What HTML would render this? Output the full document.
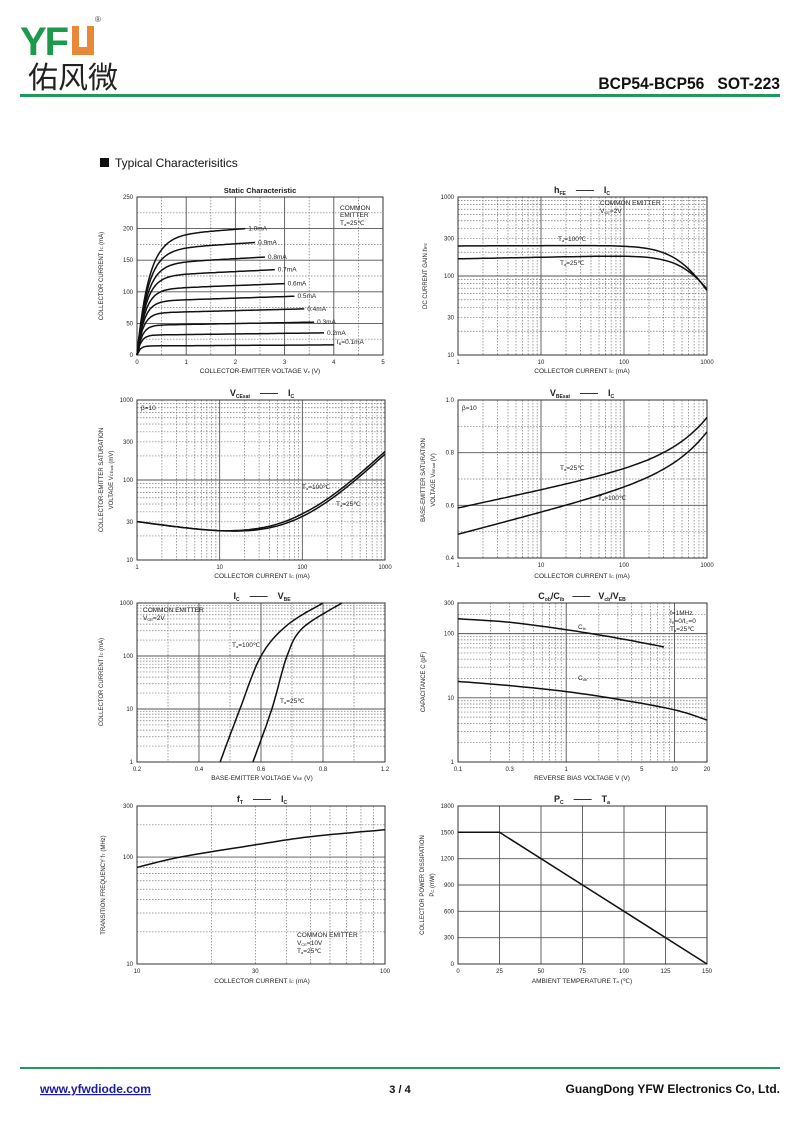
<!DOCTYPE html>
<html><head><meta charset="utf-8"><style>
body{margin:0;background:#fff;width:800px;height:1130px;overflow:hidden;font-family:"Liberation Sans",Arial,sans-serif}
svg{position:absolute;left:0;top:0}
</style></head><body>
<svg id="s" width="800" height="1130" xmlns="http://www.w3.org/2000/svg" font-family="Liberation Sans, sans-serif">
<text x="20" y="55" font-size="40" font-weight="bold" fill="#1a9a4a" letter-spacing="-2">YF</text>
<rect x="72" y="26" width="22" height="29" fill="#e8893a"/>
<rect x="79" y="26" width="8" height="21" fill="#fff"/>
<text x="95" y="22" font-size="8" fill="#444">®</text>
<text x="28" y="88" font-size="30" font-family="Noto Sans CJK SC, sans-serif" fill="#222">佑风微</text>
<rect x="20" y="94" width="760" height="3" fill="#1e9a5a"/>
<text x="780" y="89" font-size="17" font-weight="bold" text-anchor="end" fill="#111" xml:space="preserve" transform="translate(780 0) scale(0.92 1) translate(-780 0)">BCP54-BCP56   SOT-223</text>
<rect x="100" y="158" width="9" height="9" fill="#111"/>
<text x="115" y="167" font-size="12" fill="#111">Typical  Characterisitics</text>
<rect x="20" y="1067" width="760" height="2" fill="#1e9a5a"/>
<text x="40" y="1093" font-size="12" font-weight="bold" fill="#1a1aaa" text-decoration="underline">www.yfwdiode.com</text>
<text x="400" y="1093" font-size="11" font-weight="bold" text-anchor="middle" fill="#111">3 / 4</text>
<text x="780" y="1093" font-size="12" font-weight="bold" text-anchor="end" fill="#111">GuangDong YFW Electronics Co, Ltd.</text>
<g id="g"></g>
</svg>
<script>
var g=document.getElementById('g'),o='';
function T(x,y,t,s,a,w,r){o+='<text x="'+x+'" y="'+y+'" font-size="'+(s||6)+'"'+(a?' text-anchor="'+a+'"':'')+(w?' font-weight="bold"':'')+(r?' transform="rotate(-90 '+x+' '+y+')"':'')+' fill="#222">'+t+'</text>';}
function L(x1,y1,x2,y2,d,w){o+='<line x1="'+x1+'" y1="'+y1+'" x2="'+x2+'" y2="'+y2+'" stroke="'+(d?'#777':'#555')+'" stroke-width="'+(w||(d?0.7:0.9))+'"'+(d?' stroke-dasharray="1.5,1.5"':'')+'/>';}
function chart(c){
 var lg=Math.log10;
 var fx=function(v){var a=c.xl?lg(v):v,a0=c.xl?lg(c.x0):c.x0,a1=c.xl?lg(c.x1):c.x1;return c.L+(a-a0)/(a1-a0)*(c.R-c.L);};
 var fy=function(v){var a=c.yl?lg(v):v,a0=c.yl?lg(c.y0):c.y0,a1=c.yl?lg(c.y1):c.y1;return c.B-(a-a0)/(a1-a0)*(c.B-c.T);};
 c.fx=fx;c.fy=fy;
 (c.xd||[]).forEach(function(v){L(fx(v),c.T,fx(v),c.B,1);});
 (c.yd||[]).forEach(function(v){L(c.L,fy(v),c.R,fy(v),1);});
 (c.xs||[]).forEach(function(v){L(fx(v),c.T,fx(v),c.B);});
 (c.ys||[]).forEach(function(v){L(c.L,fy(v),c.R,fy(v));});
 o+='<rect x="'+c.L+'" y="'+c.T+'" width="'+(c.R-c.L)+'" height="'+(c.B-c.T)+'" fill="none" stroke="#333" stroke-width="1"/>';
 c.xt.forEach(function(v){T(fx(v[0]),c.B+9,v[1],6,'middle');});
 c.yt.forEach(function(v){T(c.L-4,fy(v[0])+2,v[1],6,'end');});
 (c.curves||[]).forEach(function(pts){var p=pts.filter(function(q){return isFinite(fy(q[1]))&&isFinite(fx(q[0]));}).map(function(q){return fx(q[0]).toFixed(1)+','+fy(q[1]).toFixed(1);}).join(' ');o+='<polyline points="'+p+'" fill="none" stroke="#111" stroke-width="1.5"/>';});
 return c;
}
function logdiv(a,b){var r=[];for(var d=a;d<b;d*=10)for(var k=2;k<10;k++)if(d*k<b)r.push(d*k);return r;}
function fn(f,a,b,n,lg){var r=[];for(var i=0;i<=n;i++){var t=i/n;var x=lg?Math.pow(10,Math.log10(a)+t*(Math.log10(b)-Math.log10(a))):a+t*(b-a);r.push([x,f(x)]);}return r;}
function interp(pts,n,lx,ly){
 var P=pts.map(function(p){return [lx?Math.log10(p[0]):p[0],ly?Math.log10(p[1]):p[1]];});
 var r=[];for(var i=0;i<P.length-1;i++){for(var j=0;j<n;j++){var t=j/n;var p0=P[Math.max(0,i-1)],p1=P[i],p2=P[i+1],p3=P[Math.min(P.length-1,i+2)];var cr=function(a,b,c,d){return 0.5*(2*b+(-a+c)*t+(2*a-5*b+4*c-d)*t*t+(-a+3*b-3*c+d)*t*t*t);};r.push([cr(p0[0],p1[0],p2[0],p3[0]),cr(p0[1],p1[1],p2[1],p3[1])]);}}r.push(P[P.length-1]);
 return r.map(function(q){return [lx?Math.pow(10,q[0]):q[0],ly?Math.pow(10,q[1]):q[1]];});}
// 1 static
var cv=[],lab=[['1.0mA',200,2.2],['0.9mA',178,2.4],['0.8mA',155,2.6],['0.7mA',135,2.8],['0.6mA',113,3.0],['0.5mA',93,3.2],['0.4mA',73,3.4],['0.3mA',52,3.6],['0.2mA',35,3.8],['I<tspan font-size="4" dy="1">B</tspan><tspan dy="-1">=0.1mA</tspan>',16,4.0]];
lab.forEach(function(l,i){var e=l[1],end=l[2],v0=0.06+0.02*(9-i);var s=e/(1+0.03*end);cv.push(fn(function(x){return s*(1-Math.exp(-x/v0))*(1+0.03*x);},0,end,60));});
var c1=chart({L:137,R:383,T:197,B:355,x0:0,x1:5,y0:0,y1:250,xs:[1,2,3,4],ys:[50,100,150,200],xd:[0.5,1.5,2.5,3.5,4.5],yd:[25,75,125,175,225],
xt:[[0,'0'],[1,'1'],[2,'2'],[3,'3'],[4,'4'],[5,'5']],yt:[[0,'0'],[50,'50'],[100,'100'],[150,'150'],[200,'200'],[250,'250']],curves:cv});
lab.forEach(function(l){T(c1.fx(l[2])+3,c1.fy(l[1])+(l[1]<20?-1:2),l[0],6.5);});
T(260,193,'Static Characteristic',7.5,'middle',1);
T(340,210,'COMMON',6.5);T(340,217,'EMITTER',6.5);T(340,225,'T<tspan font-size="4" dy="1">a</tspan><tspan dy="-1">=25℃</tspan>',6.5);
T(103,276,'COLLECTOR CURRENT   I<tspan font-size="4">C</tspan>   (mA)',6,'middle',0,1);
T(260,373,'COLLECTOR-EMITTER VOLTAGE    V<tspan font-size="4">c</tspan>     (V)',6.5,'middle');
// 2 hFE
var c2=chart({L:458,R:707,T:197,B:355,xl:1,yl:1,x0:1,x1:1000,y0:10,y1:1000,xs:[10,100],ys:[100],xd:logdiv(1,1000),yd:logdiv(10,1000),
xt:[[1,'1'],[10,'10'],[100,'100'],[1000,'1000']],yt:[[10,'10'],[30,'30'],[100,'100'],[300,'300'],[1000,'1000']],
curves:[fn(function(x){return 240*Math.pow(x,0.004)/(1+Math.pow(x/600,2));},1,1000,80,1),fn(function(x){return 165*Math.pow(x,0.02)/(1+Math.pow(x/750,2));},1,1000,80,1)]});
T(582,193,'h<tspan font-size="5" dy="2">FE</tspan><tspan dy="-2" dx="10">——</tspan><tspan dx="10">I</tspan><tspan font-size="5" dy="2">C</tspan>',9,'middle',1);
T(600,205,'COMMON EMITTER',6.5);T(600,213,'V<tspan font-size="4" dy="1">CE</tspan><tspan dy="-1">=2V</tspan>',6.5);
T(558,241,'T<tspan font-size="4" dy="1">a</tspan><tspan dy="-1">=100℃</tspan>',6.5);T(560,265,'T<tspan font-size="4" dy="1">a</tspan><tspan dy="-1">=25℃</tspan>',6.5);
T(427,276,'DC CURRENT GAIN   h<tspan font-size="4">FE</tspan>',6,'middle',0,1);
T(582,373,'COLLECTOR CURRENT    I<tspan font-size="4">C</tspan>    (mA)',6.5,'middle');
// 3 VCEsat
var c3=chart({L:137,R:385,T:400,B:560,xl:1,yl:1,x0:1,x1:1000,y0:10,y1:1000,xs:[10,100],ys:[100],xd:logdiv(1,1000),yd:logdiv(10,1000),
xt:[[1,'1'],[10,'10'],[100,'100'],[1000,'1000']],yt:[[10,'10'],[30,'30'],[100,'100'],[300,'300'],[1000,'1000']],
curves:[fn(function(x){return 30/Math.pow(x,0.15)+0.2*x;},1,1000,80,1),fn(function(x){return (30/Math.pow(x,0.15)+0.2*x)*(1+0.08*Math.min(1,Math.max(0,(Math.log10(x)-1)/1)));},1,1000,80,1)]});
T(262,396,'V<tspan font-size="5" dy="2">CEsat</tspan><tspan dy="-2" dx="10">——</tspan><tspan dx="10">I</tspan><tspan font-size="5" dy="2">C</tspan>',9,'middle',1);
T(141,410,'β=10',6.5);
T(302,489,'T<tspan font-size="4" dy="1">a</tspan><tspan dy="-1">=100℃</tspan>',6.5);T(336,506,'T<tspan font-size="4" dy="1">a</tspan><tspan dy="-1">=25℃</tspan>',6.5);
T(103,480,'COLLECTOR-EMITTER SATURATION',6,'middle',0,1);T(113,480,'VOLTAGE   V<tspan font-size="4">CEsat</tspan>  (mV)',6,'middle',0,1);
T(262,578,'COLLECTOR CURRENT    I<tspan font-size="4">C</tspan>    (mA)',6.5,'middle');
// 4 VBEsat
var c4=chart({L:458,R:707,T:400,B:558,xl:1,x0:1,x1:1000,y0:0.4,y1:1.0,xs:[10,100],ys:[0.6,0.8],xd:logdiv(1,1000),yd:[0.5,0.7,0.9],
xt:[[1,'1'],[10,'10'],[100,'100'],[1000,'1000']],yt:[[0.4,'0.4'],[0.6,'0.6'],[0.8,'0.8'],[1.0,'1.0']],
curves:[fn(function(x){return 0.59+0.068*Math.log10(x)+0.00014*x;},1,1000,80,1),fn(function(x){return 0.49+0.083*Math.log10(x)+0.00014*x;},1,1000,80,1)]});
T(582,396,'V<tspan font-size="5" dy="2">BEsat</tspan><tspan dy="-2" dx="10">——</tspan><tspan dx="10">I</tspan><tspan font-size="5" dy="2">C</tspan>',9,'middle',1);
T(462,410,'β=10',6.5);
T(560,470,'T<tspan font-size="4" dy="1">a</tspan><tspan dy="-1">=25℃</tspan>',6.5);T(598,500,'T<tspan font-size="4" dy="1">a</tspan><tspan dy="-1">=100℃</tspan>',6.5);
T(425,480,'BASE-EMITTER SATURATION',6,'middle',0,1);T(435,480,'VOLTAGE   V<tspan font-size="4">BEsat</tspan>  (V)',6,'middle',0,1);
T(582,578,'COLLECTOR CURRENT    I<tspan font-size="4">C</tspan>    (mA)',6.5,'middle');
// 5 IC-VBE (pixel scale: 0.2..1.0 across, last label reads 1.2)
var c5=chart({L:137,R:385,T:603,B:762,yl:1,x0:0.2,x1:1.0,y0:1,y1:1000,xs:[0.4,0.6,0.8],ys:[10,100],xd:[0.3,0.5,0.7,0.9],yd:logdiv(1,1000),
xt:[[0.2,'0.2'],[0.4,'0.4'],[0.6,'0.6'],[0.8,'0.8'],[1.0,'1.2']],yt:[[1,'1'],[10,'10'],[100,'100'],[1000,'1000']],
curves:[interp([[0.468,1],[0.532,10],[0.6,100],[0.684,380],[0.8,1000]],10,0,1),interp([[0.574,1],[0.635,10],[0.684,100],[0.735,340],[0.861,1000]],10,0,1)]});
T(262,599,'I<tspan font-size="5" dy="2">C</tspan><tspan dy="-2" dx="10">——</tspan><tspan dx="10">V</tspan><tspan font-size="5" dy="2">BE</tspan>',9,'middle',1);
T(143,612,'COMMON EMITTER',6.5);T(143,620,'V<tspan font-size="4" dy="1">CE</tspan><tspan dy="-1">=2V</tspan>',6.5);
T(232,647,'T<tspan font-size="4" dy="1">a</tspan><tspan dy="-1">=100℃</tspan>',6.5);T(280,703,'T<tspan font-size="4" dy="1">a</tspan><tspan dy="-1">=25℃</tspan>',6.5);
T(103,682,'COLLECTOR CURRENT   I<tspan font-size="4">C</tspan>  (mA)',6,'middle',0,1);
T(262,780,'BASE-EMITTER VOLTAGE     V<tspan font-size="4">BE</tspan>    (V)',6.5,'middle');
// 6 Capacitance
var c6=chart({L:458,R:707,T:603,B:762,xl:1,yl:1,x0:0.1,x1:20,y0:1,y1:300,xs:[1,10],ys:[10,100],xd:logdiv(0.1,20),yd:logdiv(1,300),
xt:[[0.1,'0.1'],[0.3,'0.3'],[1,'1'],[5,'5'],[10,'10'],[20,'20']],yt:[[1,'1'],[10,'10'],[100,'100'],[300,'300']],
curves:[interp([[0.1,170],[0.3,150],[1,115],[3,85],[8,62]],10,1,1),interp([[0.1,18],[0.3,15.5],[1,12.5],[3,9.5],[10,6.5],[20,4.5]],10,1,1)]});
T(582,599,'C<tspan font-size="5" dy="2">ob</tspan><tspan dy="-2">/C</tspan><tspan font-size="5" dy="2">ib</tspan><tspan dy="-2" dx="8">——</tspan><tspan dx="8">V</tspan><tspan font-size="5" dy="2">cb</tspan><tspan dy="-2">/V</tspan><tspan font-size="5" dy="2">EB</tspan>',9,'middle',1);
T(670,615,'f=1MHz',6.5);T(670,623,'I<tspan font-size="4" dy="1">E</tspan><tspan dy="-1">=0/I</tspan><tspan font-size="4" dy="1">C</tspan><tspan dy="-1">=0</tspan>',6.5);T(670,631,'T<tspan font-size="4" dy="1">a</tspan><tspan dy="-1">=25℃</tspan>',6.5);
T(578,629,'C<tspan font-size="4" dy="1">ib</tspan>',6.5);T(578,680,'C<tspan font-size="4" dy="1">ob</tspan>',6.5);
T(425,682,'CAPACITANCE   C   (pF)',6,'middle',0,1);
T(582,780,'REVERSE BIAS VOLTAGE    V    (V)',6.5,'middle');
// 7 fT
var c7=chart({L:137,R:385,T:806,B:964,xl:1,yl:1,x0:10,x1:100,y0:10,y1:300,xs:[],ys:[100],xd:[20,30,40,50,60,70,80,90],yd:[20,30,40,50,60,70,80,90,200],
xt:[[10,'10'],[30,'30'],[100,'100']],yt:[[10,'10'],[100,'100'],[300,'300']],
curves:[interp([[10,80],[15,100],[30,130],[50,155],[100,180]],10,1,1)]});
T(262,802,'f<tspan font-size="5" dy="2">T</tspan><tspan dy="-2" dx="10">——</tspan><tspan dx="10">I</tspan><tspan font-size="5" dy="2">C</tspan>',9,'middle',1);
T(297,937,'COMMON EMITTER',6.5);T(297,945,'V<tspan font-size="4" dy="1">CE</tspan><tspan dy="-1">=10V</tspan>',6.5);T(297,953,'T<tspan font-size="4" dy="1">a</tspan><tspan dy="-1">=25℃</tspan>',6.5);
T(105,885,'TRANSITION FREQUENCY   f<tspan font-size="4">T</tspan>   (MHz)',6,'middle',0,1);
T(262,983,'COLLECTOR CURRENT    I<tspan font-size="4">C</tspan>    (mA)',6.5,'middle');
// 8 PD
var c8=chart({L:458,R:707,T:806,B:964,x0:0,x1:150,y0:0,y1:1800,xs:[25,50,75,100,125],ys:[300,600,900,1200,1500],
xt:[[0,'0'],[25,'25'],[50,'50'],[75,'75'],[100,'100'],[125,'125'],[150,'150']],yt:[[0,'0'],[300,'300'],[600,'600'],[900,'900'],[1200,'1200'],[1500,'1500'],[1800,'1800']],
curves:[[[0,1500],[25,1500],[150,0]]]});
T(582,802,'P<tspan font-size="5" dy="2">C</tspan><tspan dy="-2" dx="10">——</tspan><tspan dx="10">T</tspan><tspan font-size="5" dy="2">a</tspan>',9,'middle',1);
T(424,885,'COLLECTOR POWER DISSIPATION',6,'middle',0,1);T(434,885,'P<tspan font-size="4">C</tspan>  (mW)',6,'middle',0,1);
T(582,983,'AMBIENT TEMPERATURE     T<tspan font-size="4">a</tspan>    (℃)',6.5,'middle');
g.innerHTML=o;
</script>
</body></html>
